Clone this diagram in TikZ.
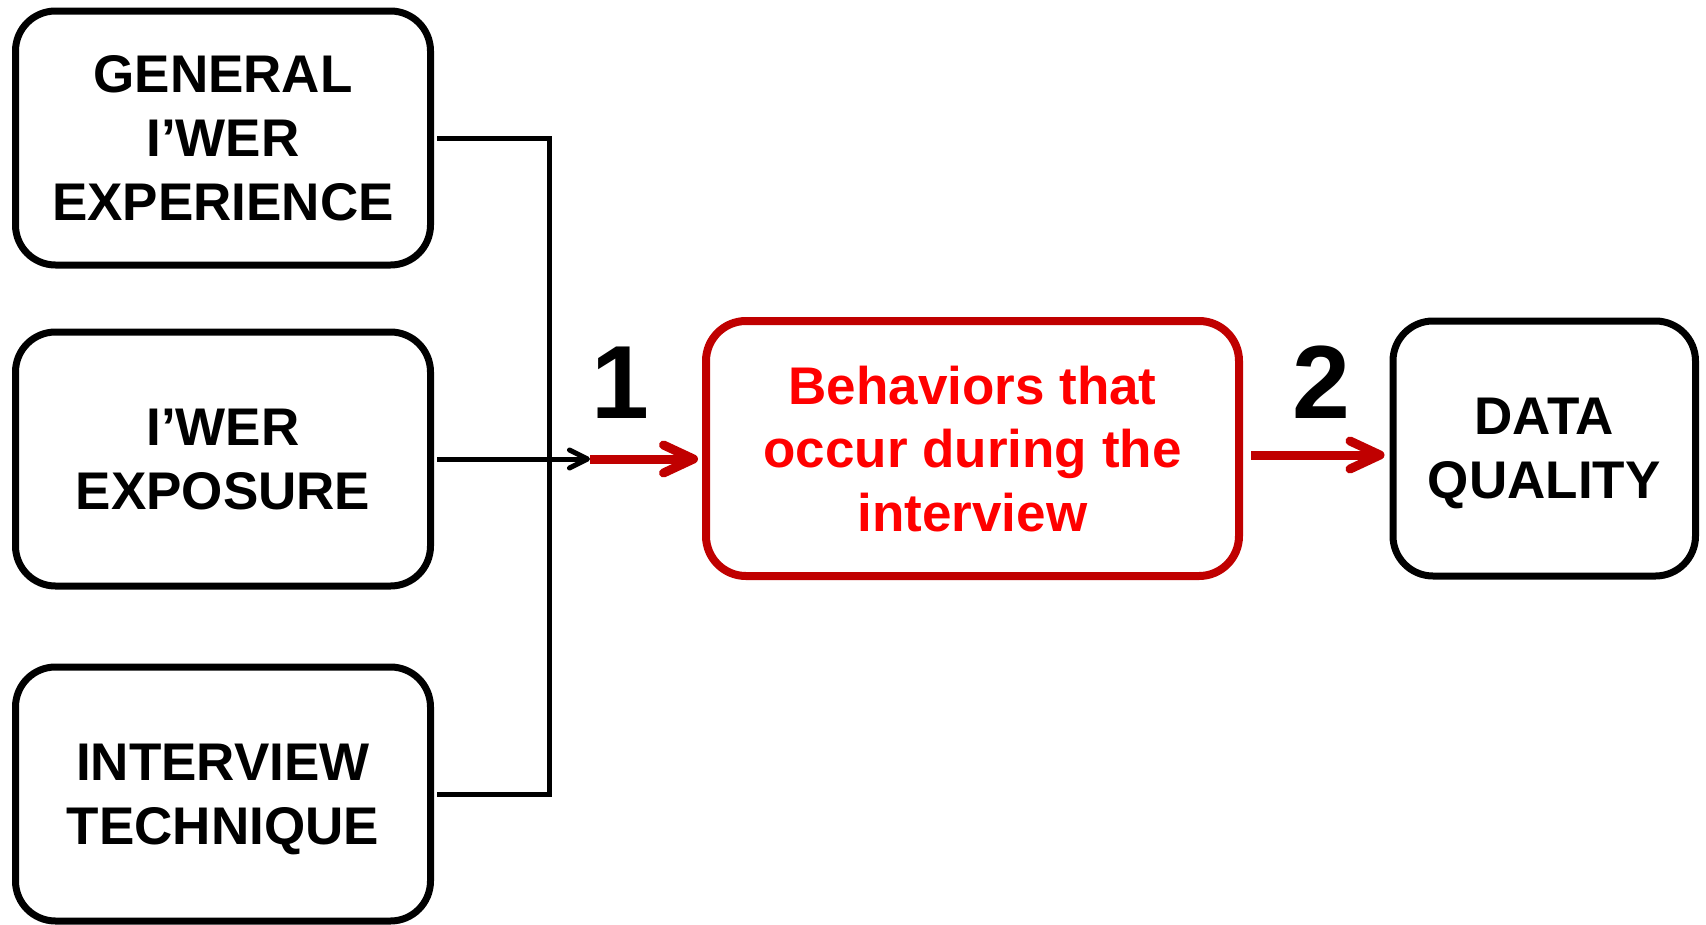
\documentclass[tikz,border=0pt]{standalone}
\usepackage{fontspec}
\setmainfont{Liberation Sans}
\usetikzlibrary{arrows.meta}
\definecolor{dkred}{HTML}{C00000}
\definecolor{txtred}{HTML}{FF0000}
\tikzset{
  box/.style={draw=black, line width=7pt, rounded corners=40pt, inner sep=0pt,
    align=center, text depth=0pt, font=\fontsize{53}{63.6}\selectfont\bfseries},
  leftbox/.style={box, minimum width=415pt, minimum height=254pt},
  redbox/.style={box, draw=dkred, line width=8pt, text=txtred, minimum width=533pt, minimum height=255pt},
  dqbox/.style={box, minimum width=302.5pt, minimum height=255pt},
  conn/.style={draw=black, line width=5pt},
  blackhead/.style={-{Straight Barb[length=18pt, width=18pt, round]}},
  redarrow/.style={draw=dkred, line width=9pt, -{Straight Barb[length=30pt, width=28pt, round]}},
  numlabel/.style={font=\fontsize{104}{104}\selectfont\bfseries, inner sep=0pt, anchor=base}
}
\begin{document}
\begin{tikzpicture}[x=1pt, y=-1pt]
\useasboundingbox (0,0) rectangle (1706,924);
\node[leftbox] (b1) at (223,138) {GENERAL\\I’WER\\EXPERIENCE};
\node[leftbox] (b2) at (223,459) {I’WER\\EXPOSURE};
\node[leftbox] (b3) at (223,794) {INTERVIEW\\TECHNIQUE};
\node[redbox] (rb) at (972.5,448.5) {Behaviors that\\occur during the\\interview};
\node[dqbox] (dq) at (1544.25,448.5) {DATA\\QUALITY};
\node[numlabel] (n1) at (620,418) {1};
\node[numlabel] (n2) at (1321,418) {2};
\coordinate (bus) at (549.5,0);
\coordinate (tipx) at (590,0);
\coordinate (r2) at (1243,455);
% connectors
\draw[conn] ([xshift=3pt]b1.east) -- (b1.east -| bus) -- (b3.east -| bus) -- ([xshift=3pt]b3.east);
\draw[redarrow, shorten >=4pt] (b2.east -| tipx) -- (b2.east -| rb.west);
\draw[conn, blackhead] ([xshift=3pt]b2.east) -- (b2.east -| tipx);
\draw[redarrow, shorten <=8pt, shorten >=5pt] (r2) -- (r2 -| dq.west);
\end{tikzpicture}
\end{document}
